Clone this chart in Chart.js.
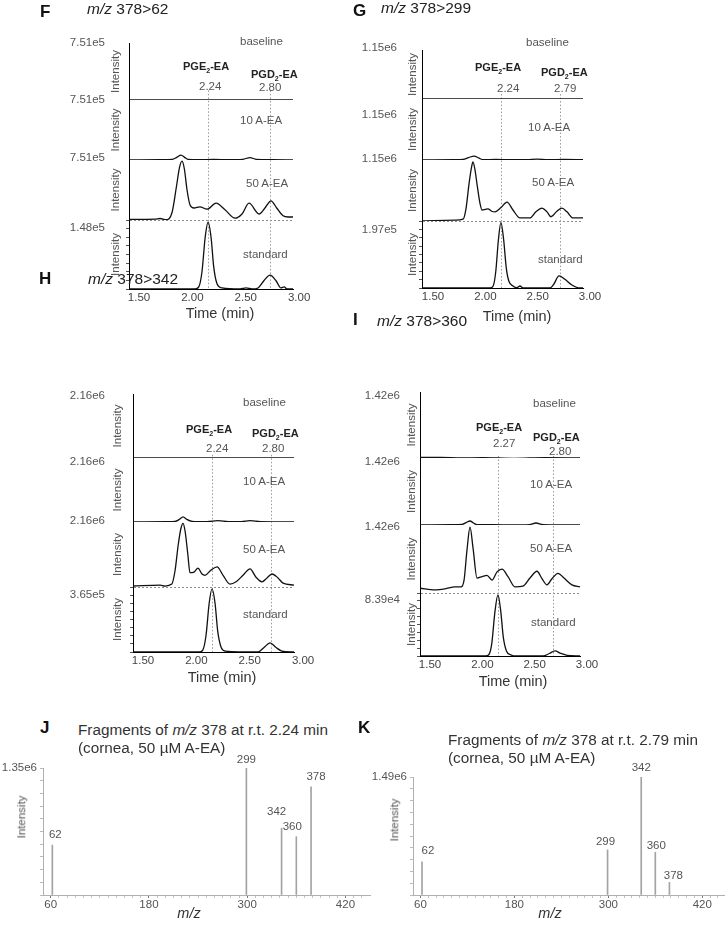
<!DOCTYPE html>
<html>
<head>
<meta charset="utf-8">
<script src="https://cdn.jsdelivr.net/npm/chart.js@4.4.1/dist/chart.umd.min.js"></script>
<style>
  html, body { margin: 0; padding: 0; background: #fff; }
  body { position: relative; width: 725px; height: 926px; overflow: hidden;
         font-family: "Liberation Sans", Arial, sans-serif; }
  canvas { position: absolute; }
  .lbl { position: absolute; white-space: nowrap; line-height: 1; transform: translateY(-50%); }
  .c { transform: translate(-50%, -50%); }
  .rot { transform: translate(-50%, -50%) rotate(-90deg); }
  .letter { font-weight: bold; font-size: 17px; color: #111; }
  .ttl { font-size: 15.5px; color: #222; }
  .note { font-size: 11.5px; color: #555; }
  .cmp { font-size: 11px; font-weight: bold; color: #222; }
  .cmp .s { font-size: 7px; position: relative; top: 3px; }
  .axt { font-size: 14.5px; color: #333; }
  .sp { font-size: 15.3px; color: #333; }
</style>
</head>
<body>
<canvas id="cF" width="330" height="330" style="left:0;top:0"></canvas>
<canvas id="cG" width="375" height="330" style="left:350px;top:0"></canvas>
<canvas id="cH" width="330" height="350" style="left:0;top:340px"></canvas>
<canvas id="cI" width="375" height="350" style="left:350px;top:340px"></canvas>
<canvas id="cJ" width="372" height="171" style="left:0;top:755px"></canvas>
<canvas id="cK" width="365" height="171" style="left:360px;top:755px"></canvas>
<script>
// ---- chromatogram data: [time (min), % of trace full scale] ----
const timeTicks = [1.5, 2.0, 2.5, 3.0];

const fBase = [[1.406, 0], [2.0, 0], [2.943, 0]];
const f10 = [[1.406, 0], [1.70, 0.5], [1.81, 1], [1.85, 4], [1.894, 8], [1.93, 4], [1.96, 1], [2.05, 0.5],
  [2.2, 1], [2.35, 0.5], [2.47, 1], [2.54, 4], [2.6, 1], [2.75, 0.5], [2.943, 0]];
const f50 = [[1.406, 1], [1.65, 1.5], [1.697, 2.5], [1.753, 0.5], [1.81, 13], [1.85, 55], [1.88, 88], [1.903, 98],
  [1.925, 85], [1.95, 50], [1.978, 25], [2.015, 20], [2.07, 22], [2.137, 18], [2.222, 28], [2.306, 17], [2.40, 3],
  [2.465, 10], [2.531, 28], [2.625, 10], [2.68, 20], [2.737, 32], [2.79, 20], [2.85, 7], [2.897, 5], [2.943, 5]];
const fStd = [[1.406, 0], [2.025, 0], [2.06, 3], [2.09, 25], [2.12, 75], [2.147, 97], [2.175, 75], [2.20, 32],
  [2.23, 8], [2.278, 1.5], [2.447, 0], [2.503, 1.5], [2.56, 0], [2.615, 1.5], [2.67, 12], [2.728, 20], [2.784, 12],
  [2.83, 1.5], [2.86, 3], [2.887, 0], [2.943, 0]];
const fScale = ['7.51e5', '7.51e5', '7.51e5', '1.48e5'];
const fMarks = [2.147, 2.728];

const gBase = [[1.395, 0], [2.0, 0], [2.933, 0]];
const g10 = [[1.395, 0], [1.70, 0.5], [1.787, 1], [1.84, 4], [1.892, 6.5], [1.94, 3], [1.978, 0.5], [2.1, 1],
  [2.25, 0.5], [2.40, 0.5], [2.49, 1.5], [2.6, 0.5], [2.75, 1], [2.933, 0.5]];
const g50 = [[1.395, 0], [1.71, 1.5], [1.787, 3], [1.815, 20], [1.845, 62], [1.87, 90], [1.882, 97], [1.90, 85],
  [1.925, 55], [1.95, 28], [1.968, 18], [2.0, 19], [2.025, 20], [2.06, 16], [2.092, 15], [2.15, 22], [2.207, 31],
  [2.264, 18], [2.331, 5], [2.426, 5], [2.483, 15], [2.541, 21], [2.589, 15], [2.627, 7], [2.684, 16], [2.732, 21],
  [2.78, 15], [2.837, 5], [2.933, 5]];
const gStd = [[1.395, 0], [2.044, 0], [2.075, 3], [2.10, 25], [2.125, 72], [2.149, 98], [2.175, 72], [2.20, 30],
  [2.225, 10], [2.264, 3], [2.302, 0.5], [2.331, 3], [2.36, 0], [2.617, 0], [2.655, 6], [2.703, 18], [2.76, 13],
  [2.827, 4.5], [2.904, 0], [2.933, 0]];
const gScale = ['1.15e6', '1.15e6', '1.15e6', '1.97e5'];
const gMarks = [2.149, 2.713];

const hBase = [[1.406, 0], [2.0, 0], [2.915, 0]];
const h10 = [[1.406, 0], [1.72, 0.5], [1.80, 1], [1.84, 4], [1.875, 8], [1.91, 4], [1.96, 1], [2.1, 0.5],
  [2.203, 2], [2.3, 0.5], [2.42, 0.5], [2.503, 2], [2.6, 0.5], [2.915, 0]];
const h50 = [[1.406, 1.5], [1.66, 3], [1.706, 1.5], [1.77, 4.5], [1.80, 25], [1.83, 65], [1.855, 90], [1.875, 98],
  [1.895, 85], [1.92, 50], [1.94, 22], [1.978, 23], [2.015, 29], [2.053, 20], [2.081, 18], [2.137, 26], [2.194, 31],
  [2.25, 18], [2.315, 4.5], [2.372, 8], [2.437, 18], [2.503, 28], [2.559, 15], [2.615, 8], [2.662, 14], [2.709, 20],
  [2.765, 14], [2.812, 6], [2.915, 3]];
const hStd = [[1.406, 0], [2.025, 0], [2.06, 3], [2.09, 25], [2.12, 75], [2.147, 97], [2.175, 75], [2.20, 32],
  [2.23, 8], [2.27, 1.5], [2.578, 0], [2.634, 7], [2.69, 14], [2.747, 7], [2.80, 1.5], [2.915, 0]];
const hScale = ['2.16e6', '2.16e6', '2.16e6', '3.65e5'];
const hMarks = [2.147, 2.70];

const iBase = [[1.404, 1], [1.6, 1], [1.8, 0], [2.0, 0.5], [2.3, -0.5], [2.6, 0.5], [2.933, 0]];
const i10 = [[1.404, 0], [1.70, 0.5], [1.806, 1], [1.85, 4], [1.882, 6], [1.915, 3], [1.949, 0.5], [2.1, 0.5],
  [2.3, 0], [2.45, 0.5], [2.512, 3], [2.58, 0.5], [2.933, 0]];
const i50 = [[1.404, 7], [1.548, 4.5], [1.643, 6], [1.739, 9], [1.796, 9], [1.825, 19], [1.853, 63], [1.882, 97],
  [1.911, 66], [1.949, 22], [1.997, 24], [2.044, 26], [2.092, 19], [2.14, 31], [2.188, 35], [2.245, 24], [2.312, 9],
  [2.388, 10], [2.455, 22], [2.522, 32], [2.57, 21], [2.617, 12], [2.665, 21], [2.723, 29], [2.78, 22], [2.856, 12],
  [2.933, 9]];
const iStd = [[1.404, 0], [2.03, 0], [2.065, 3], [2.09, 20], [2.12, 70], [2.149, 97], [2.175, 72], [2.20, 30],
  [2.23, 8], [2.27, 2], [2.33, 0], [2.58, 0], [2.64, 4], [2.694, 8], [2.75, 4], [2.81, 1], [2.933, 0]];
const iScale = ['1.42e6', '1.42e6', '1.42e6', '8.39e4'];
const iMarks = [2.149, 2.675];

// ---- fragment spectra ----
const mzMajor = [60, 180, 300, 420];
const jMz = [62, 299, 342, 360, 378];
const jInt = [0.53e6, 1.35e6, 0.71e6, 0.62e6, 1.15e6];
const kMz = [62, 299, 342, 360, 378];
const kInt = [0.42e6, 0.57e6, 1.49e6, 0.54e6, 0.16e6];

Chart.defaults.font.family = '"Liberation Sans", Arial, sans-serif';
Chart.defaults.font.size = 11.5;
Chart.defaults.color = '#555';

const FONT = '11.5px "Liberation Sans", Arial, sans-serif';

// dotted retention-time lines + rotated "Intensity" per trace axis
const chromDecor = {
  id: 'chromDecor',
  beforeDatasetsDraw(chart, args, o) {
    const { ctx, chartArea, scales } = chart;
    ctx.save();
    ctx.strokeStyle = '#9a9a9a';
    ctx.lineWidth = 1;
    ctx.setLineDash([1.5, 2]);
    o.marks.forEach((t) => {
      const x = Math.round(scales.x.getPixelForValue(t)) + 0.5;
      ctx.beginPath();
      ctx.moveTo(x, scales.y0.getPixelForValue(o.markFrom));
      ctx.lineTo(x, chartArea.bottom);
      ctx.stroke();
    });
    ctx.restore();
  },
  afterDraw(chart, args, o) {
    const { ctx, scales } = chart;
    ctx.save();
    ctx.fillStyle = '#555';
    ctx.font = FONT;
    ctx.textAlign = 'center';
    ctx.textBaseline = 'middle';
    for (let i = 0; i < 4; i++) {
      const s = scales['y' + i];
      ctx.save();
      ctx.translate(s.right - o.titleGap, (s.top + s.bottom) / 2);
      ctx.rotate(-Math.PI / 2);
      ctx.fillText('Intensity', 0, 0);
      ctx.restore();
    }
    ctx.restore();
  },
};

function chromatogram(p) {
  const stdTicks = [0, 12.5, 25, 37.5, 50, 62.5, 75, 87.5, 100];
  const scales = {
    x: {
      type: 'linear', min: p.xMin, max: p.xMax,
      afterBuildTicks: (s) => { s.ticks = timeTicks.map((v) => ({ value: v })); },
      afterFit: (s) => { s.height = 30; },
      grid: { display: false, drawTicks: false },
      border: { display: true, color: '#000', width: 1 },
      ticks: { autoSkip: false, maxRotation: 0, padding: 2, color: '#444', callback: (v) => v.toFixed(2) },
    },
  };
  p.traces.forEach((tr, i) => {
    const std = i === 3;
    scales['y' + i] = {
      type: 'linear', position: 'left', stack: 'traces', stackWeight: p.heights[i], weight: 4 - i,
      min: 0, max: 100,
      afterBuildTicks: (s) => { s.ticks = (std ? stdTicks : [0, 100]).map((v) => ({ value: v })); },
      afterFit: (s) => { s.width = p.yWidth; },
      grid: {
        display: std, drawOnChartArea: std, drawTicks: std, tickLength: 3, tickColor: '#555',
        color: (c) => (c.tick && c.tick.value === 100 ? '#8c8c8c' : 'rgba(0,0,0,0)'),
      },
      border: { display: true, color: '#000', width: 1, dash: [2, 2] },
      ticks: {
        autoSkip: false, padding: std ? p.tickPad - 3 : p.tickPad, labelOffset: p.labelOffset[i],
        color: '#555', callback: (v) => (v === 100 ? p.scale[i] : ''),
      },
    };
  });

  return new Chart(document.getElementById(p.canvas), {
    type: 'line',
    data: {
      datasets: p.traces.map((tr, i) => ({
        data: tr.map(([t, v]) => ({ x: t, y: v })),
        yAxisID: 'y' + i,
        borderColor: '#111',
        borderWidth: 1.3,
        pointRadius: 0,
        fill: false,
        cubicInterpolationMode: 'monotone',
      })),
    },
    options: {
      responsive: false, animation: false, events: [],
      layout: { padding: p.pad },
      plugins: {
        legend: { display: false }, tooltip: { enabled: false },
        chromDecor: { marks: p.marks, markFrom: p.markFrom, titleGap: p.titleGap },
      },
      scales,
    },
    plugins: [chromDecor],
  });
}

chromatogram({ canvas: 'cF', xMin: 1.406, xMax: 2.943, traces: [fBase, f10, f50, fStd], scale: fScale,
  heights: [57, 60, 60, 69], pad: { left: 59, top: 43, right: 37, bottom: 11 }, yWidth: 70,
  tickPad: 24, titleGap: 13, labelOffset: [0, 0, -2, 8], marks: fMarks, markFrom: 17 });
chromatogram({ canvas: 'cG', xMin: 1.395, xMax: 2.933, traces: [gBase, g10, g50, gStd], scale: gScale,
  heights: [49, 61, 61, 67], pad: { left: 12, top: 50, right: 142, bottom: 12 }, yWidth: 60,
  tickPad: 25, titleGap: 9, labelOffset: [-2, 16, -1, 9], marks: gMarks, markFrom: 10 });
chromatogram({ canvas: 'cH', xMin: 1.406, xMax: 2.915, traces: [hBase, h10, h50, hStd], scale: hScale,
  heights: [64, 64, 65, 65], pad: { left: 63, top: 54, right: 36, bottom: 8 }, yWidth: 70,
  tickPad: 28, titleGap: 15, labelOffset: [2, 4, -1, 8], marks: hMarks, markFrom: 5 });
chromatogram({ canvas: 'cI', xMin: 1.404, xMax: 2.933, traces: [iBase, i10, i50, iStd], scale: iScale,
  heights: [66, 67, 68, 63], pad: { left: 10, top: 52, right: 145, bottom: 4 }, yWidth: 60,
  tickPad: 20, titleGap: 8, labelOffset: [4, 4, 2, 7], marks: iMarks, markFrom: 3 });

// stick labels above each fragment
const stickLabels = {
  id: 'stickLabels',
  afterDatasetsDraw(chart, args, o) {
    const { ctx, scales: { x, y } } = chart;
    ctx.save();
    ctx.fillStyle = '#555';
    ctx.font = FONT;
    ctx.textAlign = 'center';
    ctx.textBaseline = 'middle';
    o.mz.forEach((m, i) => {
      ctx.fillText(String(m), x.getPixelForValue(m) + o.nudge[i][0], y.getPixelForValue(o.int[i]) + o.nudge[i][1]);
    });
    ctx.restore();
  },
};

function spectrum(id, mz, inten, yMax, yLabel, pad, yWidth, xMin, xMax, nudge) {
  const minor = [];
  for (let v = 60; v <= 440; v += 10) minor.push(v);
  return new Chart(document.getElementById(id), {
    type: 'bar',
    data: {
      datasets: [{
        data: mz.map((m, i) => ({ x: m, y: inten[i] })),
        backgroundColor: '#a3a3a3',
        barThickness: 1,
      }],
    },
    options: {
      responsive: false, animation: false, events: [],
      layout: { padding: pad },
      plugins: {
        legend: { display: false }, tooltip: { enabled: false },
        stickLabels: { mz, int: inten, nudge },
      },
      scales: {
        x: {
          type: 'linear', min: xMin, max: xMax, offset: false,
          afterBuildTicks: (s) => { s.ticks = minor.map((v) => ({ value: v })); },
          afterFit: (s) => { s.height = 20; },
          grid: {
            offset: false, drawOnChartArea: false, tickLength: 3,
            tickColor: (c) => (c.tick && mzMajor.includes(c.tick.value) ? '#777' : '#c4c4c4'),
          },
          border: { color: '#b0b0b0' },
          ticks: { autoSkip: false, maxRotation: 0, padding: 0, color: '#555',
            callback: (v) => (mzMajor.includes(v) ? String(v) : '') },
        },
        y: {
          min: 0, max: yMax,
          afterBuildTicks: (s) => { s.ticks = Array.from({ length: 11 }, (_, i) => ({ value: yMax * i / 10 })); },
          afterFit: (s) => { s.width = yWidth; },
          grid: { drawOnChartArea: false, tickLength: 3, tickColor: '#bbb' },
          border: { color: '#b0b0b0' },
          ticks: { autoSkip: false, padding: 3, color: '#555', callback: (v, i) => (i === 10 ? yLabel : '') },
        },
      },
    },
    plugins: [stickLabels],
  });
}

spectrum('cJ', jMz, jInt, 1.35e6, '1.35e6', { left: 0, top: 13, right: 2, bottom: 11 }, 43, 50.6, 450,
  [[3, -10], [0, -8], [-5, -16], [-4, -10], [5, -10]]);
spectrum('cK', kMz, kInt, 1.49e6, '1.49e6', { left: 3, top: 22, right: 0, bottom: 11 }, 50, 50.5, 449,
  [[6, -11], [-2, -8], [0, -9], [1, -6], [4, -7]]);

// ---- text overlays ----
const PGE = 'PGE<span class="s">2</span>-EA';
const PGD = 'PGD<span class="s">2</span>-EA';
const notes = [
  ['F', 40, 11, 'letter'], ['<i>m/z</i> 378&gt;62', 87, 9, 'ttl'],
  ['baseline', 240, 42, 'note'], [PGE, 183, 66, 'cmp'], ['2.24', 199, 87, 'note'], [PGD, 251, 74, 'cmp'],
  ['2.80', 259, 88, 'note'], ['10 A-EA', 240, 121, 'note'], ['50 A-EA', 246, 184, 'note'],
  ['standard', 243, 255, 'note'], ['Time (min)', 220, 313, 'axt c'],

  ['G', 353, 10, 'letter'], ['<i>m/z</i> 378&gt;299', 381, 8, 'ttl'],
  ['baseline', 526, 43, 'note'], [PGE, 475, 67, 'cmp'], ['2.24', 497, 89, 'note'], [PGD, 541, 72, 'cmp'],
  ['2.79', 554, 89, 'note'], ['10 A-EA', 528, 128, 'note'], ['50 A-EA', 532, 183, 'note'],
  ['standard', 538, 260, 'note'], ['Time (min)', 517, 316, 'axt c'],

  ['H', 39, 278, 'letter'], ['<i>m/z</i> 378&gt;342', 88, 279, 'ttl'],
  ['baseline', 243, 403, 'note'], [PGE, 186, 429, 'cmp'], ['2.24', 206, 449, 'note'], [PGD, 252, 433, 'cmp'],
  ['2.80', 262, 449, 'note'], ['10 A-EA', 243, 482, 'note'], ['50 A-EA', 243, 550, 'note'],
  ['standard', 243, 615, 'note'], ['Time (min)', 222, 677, 'axt c'],

  ['I', 353, 319, 'letter'], ['<i>m/z</i> 378&gt;360', 377, 321, 'ttl'],
  ['baseline', 533, 404, 'note'], [PGE, 476, 427, 'cmp'], ['2.27', 493, 444, 'note'], [PGD, 533, 437, 'cmp'],
  ['2.80', 549, 452, 'note'], ['10 A-EA', 530, 485, 'note'], ['50 A-EA', 530, 549, 'note'],
  ['standard', 531, 623, 'note'], ['Time (min)', 513, 681, 'axt c'],

  ['J', 40, 727, 'letter'], ['Fragments of <i>m/z</i> 378 at r.t. 2.24 min', 78, 730, 'sp'],
  ['(cornea, 50 \u00b5M A-EA)', 78, 748, 'sp'], ['Intensity', 22, 817, 'note rot'], ['<i>m/z</i>', 189, 913, 'axt c'],

  ['K', 358, 727, 'letter'], ['Fragments of <i>m/z</i> 378 at r.t. 2.79 min', 448, 740, 'sp'],
  ['(cornea, 50 \u00b5M A-EA)', 448, 758, 'sp'], ['Intensity', 395, 820, 'note rot'], ['<i>m/z</i>', 550, 913, 'axt c'],
];

notes.forEach(([html, x, y, cls]) => {
  const d = document.createElement('div');
  d.className = 'lbl ' + cls;
  d.innerHTML = html;
  d.style.left = x + 'px';
  d.style.top = y + 'px';
  document.body.appendChild(d);
});
</script>
</body>
</html>
